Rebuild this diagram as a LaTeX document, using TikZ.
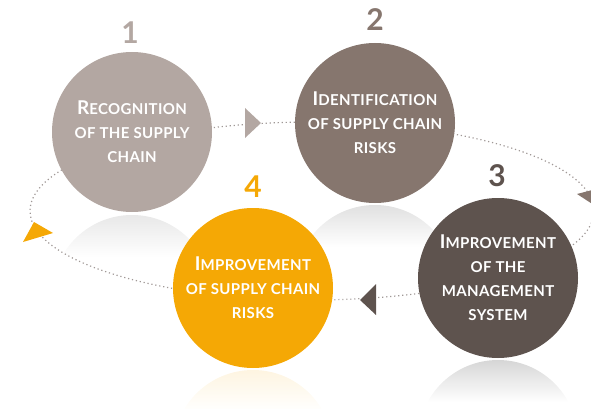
\documentclass[tikz,border=0pt]{standalone}
\usepackage{fontspec}
\setmainfont{Lato}
\newfontfamily\lblf[LetterSpace=2.5]{Lato}
\definecolor{cA}{HTML}{B3A7A2}
\definecolor{cB}{HTML}{86766E}
\definecolor{cC}{HTML}{5E534E}
\definecolor{cD}{HTML}{F5A805}
\definecolor{dotc}{HTML}{A09896}
\newcommand{\capit}[1]{{\fontsize{19}{24}\selectfont #1}}
\tikzset{
  stage/.style={circle, minimum size=160pt, inner sep=0pt, text=white, align=center,
    font=\lblf\bfseries\fontsize{15}{24}\selectfont},
  numlbl/.style={font=\bfseries\fontsize{30}{30}\selectfont, inner sep=0pt},
  dotline/.style={dotc, line width=1.2pt, dash pattern=on 1.2pt off 2.8pt},
}
\newcommand{\reflect}[3]{% x, top y, colour
  \begin{scope}
    \clip (#1,#2+80) circle (80);
    \shade[top color=#3, bottom color=white] (#1-80,#2) rectangle (#1+80,#2+42);
  \end{scope}}
\begin{document}
\begin{tikzpicture}[x=1pt,y=-1pt]
\useasboundingbox (0,0) rectangle (591,409);
% reflections
\reflect{132}{215}{black!9}
\reflect{375}{205}{black!12}
\reflect{498}{360}{black!16}
\reflect{253}{370}{cD!12}
% dotted cycle
\draw[dotline] (312,211) ellipse [x radius=282, y radius=89];
% triangles
\fill[cA] (245,108) -- (261,123) -- (245,138) -- cycle;
\fill[cB] (577,194) -- (600,188) -- (600,209) -- cycle;
\fill[cC] (376,284) -- (360,300) -- (376,315) -- cycle;
\fill[cD] (34,222) -- (53,233) -- (23,242) -- cycle;
% circles
\node[stage, fill=cA] (c1) at (132,132) {\capit{R}ECOGNITION\\OF THE SUPPLY\\CHAIN};
\node[stage, fill=cB] (c2) at (375,123) {\capit{I}DENTIFICATION\\OF SUPPLY CHAIN\\RISKS};
\node[stage, fill=cC] (c3) at (498,278) {\capit{I}MPROVEMENT\\OF THE\\MANAGEMENT\\SYSTEM};
\node[stage, fill=cD] (c4) at (253,288) {\capit{I}MPROVEMENT\\OF SUPPLY CHAIN\\RISKS};
% numbers
\node[numlbl, text=cA] (n1) at (130,33) {1};
\node[numlbl, text=cB] (n2) at (375,20) {2};
\node[numlbl, text=cC] (n3) at (497,176) {3};
\node[numlbl, text=cD] (n4) at (253,187) {4};
\end{tikzpicture}
\end{document}
